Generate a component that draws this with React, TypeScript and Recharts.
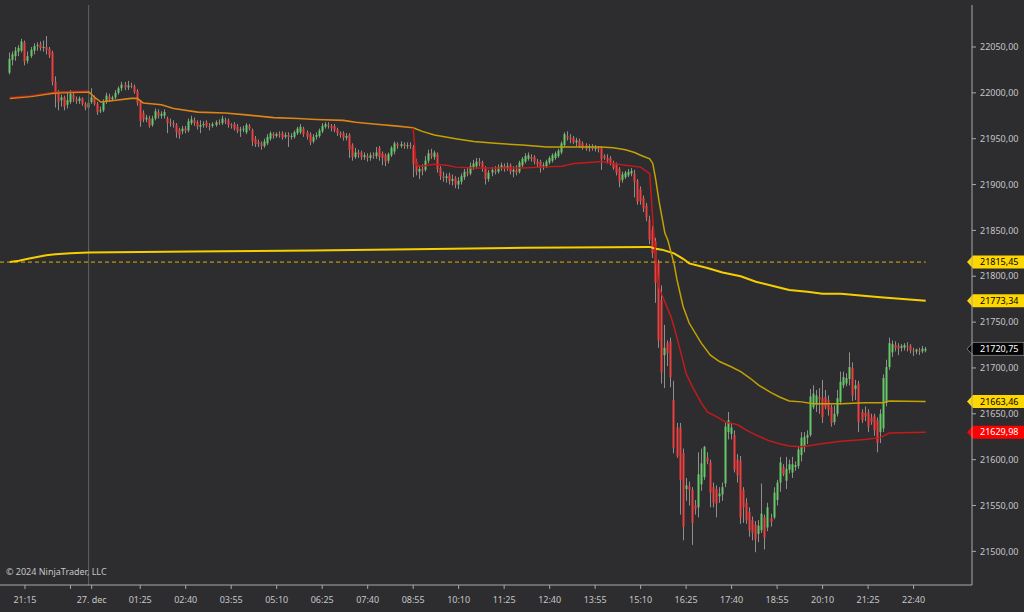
import React from 'react';
import { ComposedChart, Bar, Line, XAxis, YAxis, ReferenceLine } from 'recharts';

type Ohlc = [number, number, number, number]; // open, high, low, close
type Pt = [number, number]; // bar index, value

// 5 minute bars, 26 dec 20:50 -> 27 dec 23:00
const nightBars: Ohlc[] = [
  [22022, 22044, 22020, 22037], [22036, 22045, 22030, 22042], [22040, 22050, 22035, 22046], [22045, 22052, 22040, 22049],
  [22046, 22059, 22044, 22056], [22055, 22057, 22030, 22034], [22035, 22045, 22032, 22040], [22040, 22050, 22038, 22047],
  [22046, 22054, 22042, 22051], [22051, 22055, 22046, 22052], [22053, 22056, 22046, 22049], [22049, 22057, 22045, 22050],
  [22050, 22062, 22042, 22047], [22048, 22050, 22038, 22041], [22044, 22046, 22008, 22012], [22012, 22018, 21984, 21998],
  [22000, 22003, 21981, 21990], [21992, 21998, 21985, 21995], [21995, 21997, 21981, 21985], [21987, 22000, 21983, 21992],
  [21990, 22003, 21988, 21999], [21998, 22000, 21990, 21993], [21993, 21996, 21988, 21991], [21991, 21996, 21988, 21994],
  [21994, 21995, 21986, 21988], [21988, 21990, 21981, 21984], [21984, 21992, 21982, 21989],
];

const asiaBars: Ohlc[] = [
  [21990, 22005, 21988, 21995], [21995, 21997, 21986, 21988], [21988, 21990, 21976, 21979], [21980, 21985, 21978, 21981],
  [21981, 21993, 21979, 21990], [21990, 22000, 21988, 21997], [21996, 21999, 21990, 21993], [21993, 21997, 21991, 21995],
  [21995, 22003, 21993, 22000], [22000, 22007, 21998, 22005], [22005, 22012, 22002, 22009], [22009, 22012, 22003, 22006],
  [22006, 22013, 22003, 22008], [22008, 22011, 22005, 22007], [22007, 22009, 21999, 22001], [22002, 22004, 21986, 21989],
  [21990, 21992, 21963, 21969], [21978, 21981, 21968, 21971], [21971, 21976, 21968, 21973], [21972, 21975, 21962, 21964],
  [21965, 21975, 21963, 21972], [21972, 21983, 21970, 21980], [21979, 21982, 21972, 21975], [21975, 21980, 21972, 21977],
  [21975, 21982, 21972, 21979], [21972, 21974, 21956, 21967], [21968, 21972, 21963, 21967], [21967, 21970, 21962, 21965],
  [21965, 21967, 21951, 21957], [21960, 21962, 21950, 21954], [21958, 21964, 21955, 21961], [21961, 21964, 21956, 21959],
  [21959, 21972, 21957, 21969], [21967, 21975, 21965, 21971], [21970, 21973, 21964, 21967], [21968, 21970, 21960, 21963],
  [21963, 21970, 21956, 21965], [21965, 21969, 21962, 21966], [21968, 21970, 21962, 21964], [21964, 21967, 21959, 21963],
  [21964, 21968, 21962, 21966], [21965, 21970, 21963, 21968], [21968, 21971, 21965, 21967], [21967, 21975, 21965, 21972],
  [21970, 21973, 21966, 21969], [21970, 21972, 21962, 21965], [21965, 21967, 21961, 21964], [21966, 21968, 21959, 21961],
  [21963, 21966, 21956, 21958], [21959, 21963, 21952, 21960], [21960, 21964, 21957, 21961], [21957, 21967, 21955, 21965],
  [21964, 21966, 21959, 21961],
];

const morningBars: Ohlc[] = [
  [21959, 21961, 21942, 21947], [21950, 21953, 21941, 21944], [21946, 21949, 21941, 21944], [21945, 21947, 21938, 21942],
  [21942, 21950, 21940, 21947], [21945, 21955, 21943, 21952], [21950, 21958, 21948, 21956], [21955, 21957, 21950, 21953],
  [21953, 21957, 21951, 21955], [21955, 21958, 21951, 21954], [21956, 21958, 21949, 21951], [21952, 21957, 21950, 21954],
  [21954, 21957, 21941, 21952], [21952, 21956, 21949, 21953], [21952, 21959, 21950, 21957], [21956, 21963, 21954, 21961],
  [21957, 21966, 21955, 21963], [21961, 21963, 21952, 21955], [21957, 21959, 21949, 21952], [21955, 21957, 21943, 21946],
  [21947, 21955, 21945, 21952], [21952, 21957, 21949, 21954], [21953, 21961, 21951, 21959], [21958, 21967, 21956, 21964],
  [21963, 21968, 21961, 21966], [21965, 21968, 21961, 21964], [21964, 21966, 21958, 21962], [21964, 21966, 21957, 21959],
  [21960, 21962, 21953, 21956], [21956, 21958, 21951, 21954], [21956, 21958, 21948, 21951], [21951, 21956, 21948, 21953],
  [21954, 21956, 21929, 21938], [21943, 21945, 21926, 21930], [21930, 21940, 21928, 21935], [21935, 21938, 21929, 21933],
  [21935, 21937, 21927, 21930], [21930, 21935, 21927, 21932], [21931, 21934, 21925, 21929], [21929, 21935, 21926, 21932],
  [21932, 21935, 21928, 21931], [21931, 21941, 21928, 21935], [21940, 21942, 21926, 21930], [21934, 21936, 21921, 21929],
  [21932, 21934, 21920, 21925], [21926, 21935, 21923, 21933], [21932, 21942, 21930, 21940], [21936, 21947, 21933, 21945],
  [21944, 21946, 21939, 21942], [21942, 21947, 21940, 21944], [21944, 21946, 21939, 21942], [21942, 21946, 21939, 21943],
  [21943, 21946, 21939, 21942],
];

const europeBars: Ohlc[] = [
  [21941, 21943, 21908, 21922], [21925, 21928, 21910, 21914], [21914, 21921, 21906, 21917], [21917, 21922, 21910, 21915],
  [21916, 21931, 21914, 21926], [21926, 21938, 21923, 21934], [21934, 21939, 21928, 21931], [21930, 21937, 21927, 21935],
  [21933, 21935, 21913, 21917], [21918, 21920, 21905, 21909], [21909, 21914, 21903, 21907], [21907, 21912, 21902, 21909],
  [21910, 21913, 21900, 21904], [21904, 21911, 21899, 21906], [21907, 21909, 21896, 21900], [21900, 21908, 21895, 21904],
  [21903, 21912, 21900, 21909], [21908, 21917, 21905, 21914], [21914, 21918, 21909, 21912], [21912, 21924, 21910, 21920],
  [21919, 21927, 21916, 21923], [21920, 21929, 21917, 21925], [21925, 21929, 21920, 21923], [21924, 21926, 21914, 21917],
  [21918, 21920, 21900, 21906], [21906, 21916, 21903, 21913], [21913, 21919, 21909, 21916], [21915, 21920, 21911, 21914],
  [21914, 21922, 21912, 21919], [21918, 21924, 21915, 21921], [21920, 21923, 21914, 21918], [21918, 21924, 21915, 21920],
  [21921, 21923, 21911, 21914], [21914, 21920, 21908, 21916], [21916, 21921, 21910, 21913], [21914, 21926, 21912, 21924],
  [21921, 21930, 21919, 21928], [21925, 21934, 21923, 21931], [21928, 21935, 21926, 21932], [21930, 21933, 21925, 21928],
  [21930, 21932, 21922, 21925], [21925, 21928, 21919, 21922], [21925, 21927, 21913, 21918], [21920, 21924, 21916, 21921],
  [21920, 21927, 21918, 21925], [21924, 21931, 21922, 21929], [21926, 21934, 21924, 21932], [21929, 21936, 21927, 21934],
  [21931, 21939, 21929, 21937], [21935, 21947, 21933, 21945], [21943, 21957, 21941, 21955], [21953, 21958, 21948, 21951],
  [21951, 21955, 21945, 21949], [21951, 21953, 21944, 21946], [21946, 21951, 21942, 21948], [21948, 21950, 21940, 21942],
  [21945, 21947, 21938, 21940], [21943, 21945, 21937, 21939], [21940, 21944, 21936, 21941], [21941, 21944, 21937, 21939],
  [21939, 21943, 21936, 21940], [21940, 21942, 21935, 21938], [21940, 21942, 21916, 21928], [21931, 21933, 21927, 21929],
  [21929, 21933, 21923, 21926], [21929, 21931, 21921, 21924], [21924, 21926, 21916, 21918], [21922, 21924, 21910, 21913],
  [21917, 21919, 21897, 21903], [21905, 21914, 21902, 21911], [21908, 21915, 21906, 21913], [21910, 21917, 21908, 21914],
  [21912, 21918, 21909, 21915],
];

const crashBars: Ohlc[] = [
  [21912, 21916, 21886, 21903], [21904, 21906, 21878, 21881], [21895, 21898, 21878, 21882], [21885, 21888, 21870, 21874],
  [21877, 21880, 21860, 21864], [21862, 21866, 21835, 21840], [21850, 21855, 21820, 21825], [21838, 21842, 21771, 21793],
  [21815, 21818, 21722, 21730], [21774, 21790, 21683, 21695], [21714, 21747, 21678, 21722], [21727, 21730, 21702, 21716],
  [21729, 21733, 21679, 21690], [21665, 21686, 21607, 21613], [21635, 21640, 21602, 21604], [21635, 21640, 21540, 21578],
  [21607, 21612, 21512, 21527], [21568, 21580, 21555, 21572], [21571, 21576, 21550, 21567], [21567, 21570, 21507, 21531],
  [21550, 21556, 21540, 21546], [21548, 21608, 21537, 21584], [21573, 21612, 21566, 21596], [21581, 21615, 21578, 21614],
  [21602, 21608, 21595, 21598], [21597, 21600, 21548, 21564], [21570, 21575, 21548, 21553], [21568, 21572, 21537, 21552],
  [21560, 21570, 21553, 21563], [21562, 21575, 21555, 21570], [21574, 21640, 21570, 21636], [21630, 21652, 21622, 21643],
  [21628, 21640, 21622, 21635], [21627, 21632, 21586, 21589], [21600, 21606, 21575, 21583], [21599, 21604, 21530, 21537],
  [21567, 21570, 21531, 21548], [21553, 21558, 21530, 21534], [21543, 21548, 21516, 21523], [21534, 21538, 21512, 21520],
  [21529, 21533, 21499, 21513], [21519, 21534, 21510, 21528], [21523, 21574, 21520, 21541], [21537, 21540, 21502, 21515],
  [21526, 21553, 21522, 21548], [21536, 21541, 21527, 21532], [21537, 21570, 21535, 21564], [21556, 21578, 21550, 21575],
  [21575, 21603, 21565, 21597], [21592, 21595, 21582, 21584], [21577, 21603, 21568, 21590], [21589, 21600, 21585, 21595],
  [21586, 21603, 21580, 21595], [21592, 21598, 21588, 21594], [21593, 21614, 21590, 21611], [21605, 21630, 21598, 21624],
  [21614, 21630, 21608, 21625], [21624, 21632, 21617, 21627],
];

const reboundBars: Ohlc[] = [
  [21627, 21677, 21625, 21669], [21657, 21681, 21655, 21672], [21660, 21676, 21652, 21670], [21668, 21678, 21650, 21666],
  [21667, 21687, 21640, 21646], [21668, 21676, 21655, 21657], [21665, 21670, 21648, 21654], [21657, 21660, 21636, 21640],
  [21641, 21659, 21638, 21650], [21650, 21676, 21647, 21667], [21663, 21696, 21660, 21685], [21681, 21696, 21678, 21690],
  [21683, 21694, 21680, 21689], [21688, 21717, 21681, 21701], [21700, 21706, 21664, 21670], [21677, 21687, 21665, 21681],
  [21683, 21686, 21630, 21641], [21652, 21655, 21640, 21643], [21651, 21658, 21642, 21647], [21652, 21655, 21630, 21636],
  [21646, 21650, 21638, 21641], [21648, 21650, 21626, 21632], [21643, 21646, 21608, 21618], [21630, 21655, 21618, 21650],
  [21634, 21693, 21630, 21689], [21662, 21709, 21658, 21701], [21701, 21733, 21698, 21727], [21717, 21730, 21712, 21726],
  [21725, 21729, 21718, 21722], [21724, 21727, 21714, 21721], [21722, 21726, 21718, 21724], [21722, 21727, 21719, 21725],
  [21724, 21728, 21718, 21723], [21724, 21726, 21716, 21719], [21719, 21722, 21713, 21718], [21718, 21721, 21715, 21720],
  [21719, 21722, 21714, 21718], [21718, 21724, 21716, 21721], [21719, 21723, 21717, 21720.75],
];

// indicator lines, read at bar positions
const orangeLine: Pt[] = [
  [0, 21994], [7, 21996], [15, 22000], [26, 22001], [28, 21995], [30, 21990], [35, 21992], [40, 21994], [42, 21994],
  [44, 21989], [50, 21987], [54, 21983], [62, 21979], [71, 21978], [78, 21976], [87, 21973], [95, 21972], [101, 21971],
  [110, 21970], [114, 21968], [120, 21966], [127, 21964], [133, 21962],
];
const redNight: Pt[] = [[0, 21995], [7, 21997], [15, 22001], [26, 22002]];
const redDay: Pt[] = [
  [133, 21962], [134, 21921], [136, 21920], [140, 21922], [144, 21921], [147, 21919], [153, 21918], [162, 21918],
  [169, 21918], [175, 21919], [182, 21920], [186, 21923], [191, 21924], [195, 21925], [199, 21923], [201, 21922],
  [203, 21921], [208, 21919], [211, 21912], [212, 21862], [213, 21820], [214, 21788], [216, 21772], [218, 21756],
  [219, 21745], [221, 21720], [223, 21694], [225, 21680], [228, 21662], [230, 21652], [233, 21647], [236, 21641],
  [240, 21638], [243, 21632], [246, 21627], [250, 21621], [254, 21617], [257, 21615], [261, 21614], [263, 21615],
  [267, 21617], [274, 21620], [282, 21622], [287, 21624], [290, 21629], [302, 21629.98],
];
const goldLine: Pt[] = [
  [133, 21962], [136, 21958], [140, 21954], [147, 21950], [153, 21947], [160, 21945], [169, 21943], [177, 21941],
  [186, 21941], [195, 21941], [199, 21940], [203, 21938], [206, 21935], [208, 21932], [211, 21928], [212, 21923],
  [213, 21905], [214, 21883], [216, 21847], [217, 21839], [219, 21814], [220, 21796], [222, 21767], [224, 21749],
  [228, 21727], [231, 21714], [234, 21707], [238, 21701], [241, 21696], [244, 21689], [247, 21681], [251, 21673],
  [254, 21668], [257, 21664], [261, 21663], [265, 21661], [274, 21661], [282, 21662], [288, 21662], [290, 21664],
  [302, 21663.46],
];
const yellowLine: Pt[] = [
  [0, 21815.45], [3, 21817], [6, 21819], [9, 21821], [12, 21823], [15, 21824], [20, 21825], [26, 21826], [60, 21827],
  [100, 21828], [133, 21829.5], [170, 21831], [211, 21832], [213, 21830], [215, 21829], [219, 21825], [222, 21819],
  [224, 21814], [230, 21809], [235, 21804], [241, 21800], [246, 21794], [252, 21789], [257, 21785], [263, 21783],
  [268, 21781], [274, 21781], [287, 21777], [302, 21773.34],
];

const priorClose = 21815.45;
const sessionBreak = 26;

const timeTicks = [5, 20, 27, 43, 58, 73, 88, 103, 118, 133, 148, 163, 178, 193, 208, 223, 238, 253, 268, 283, 298];
const timeLabels = ['21:15', '', '27. dec', '01:25', '02:40', '03:55', '05:10', '06:25', '07:40', '08:55', '10:10',
  '11:25', '12:40', '13:55', '15:10', '16:25', '17:40', '18:55', '20:10', '21:25', '22:40'];
const priceTicks = [21500, 21550, 21600, 21650, 21700, 21750, 21800, 21850, 21900, 21950, 22000, 22050];

const priceTags = [
  { value: 21815.45, fill: '#ffd700', text: '#000000', stroke: 'none' },
  { value: 21773.34, fill: '#ffd700', text: '#000000', stroke: 'none' },
  { value: 21720.75, fill: '#050505', text: '#ffffff', stroke: '#8a8a8a' },
  { value: 21663.46, fill: '#ffd700', text: '#000000', stroke: 'none' },
  { value: 21629.98, fill: '#ff0000', text: '#ffffff', stroke: 'none' },
];

const candles = [...nightBars, ...asiaBars, ...morningBars, ...europeBars, ...crashBars, ...reboundBars].map(
  ([o, h, l, c], i) => ({ i, o, h, l, c, range: [l, h] })
);
const lastIndex = candles.length - 1;
const toPoints = (pts: Pt[]) => pts.map(([i, v]) => ({ i, v }));

const BG = '#2d2d30';
const AXIS = '#a9a9a9';
const TEXT = '#c6c6c6';
const FONT = '"Noto Sans", "Open Sans", sans-serif';

const fmtPrice = (v: number) => v.toFixed(2).replace('.', ',');

const Candle = (props: any) => {
  const { x, y, width, height, payload } = props;
  if (payload == null || height == null) return null;
  const cx = Math.floor(x + width / 2);
  const k = height / (payload.h - payload.l);
  const yo = y + (payload.h - payload.o) * k;
  const yc = y + (payload.h - payload.c) * k;
  const top = Math.min(yo, yc);
  const bh = Math.max(1, Math.abs(yo - yc));
  const up = payload.c >= payload.o;
  return (
    <g>
      <line x1={cx + 0.5} x2={cx + 0.5} y1={y} y2={y + height} stroke="#8e8e8e" strokeWidth={1} />
      <rect x={cx - 0.5} y={top} width={2} height={bh} fill={up ? '#66c866' : '#ec3f3f'} />
    </g>
  );
};

const PriceTag = (props: any) => {
  const { viewBox, tag } = props;
  if (!viewBox) return null;
  const right = viewBox.x + viewBox.width;
  const y = viewBox.y;
  const pts = `${right - 5},${y} ${right + 1},${y - 6.5} ${right + 52},${y - 6.5} ${right + 52},${y + 6.5} ${right + 1},${y + 6.5}`;
  return (
    <g>
      <polygon points={pts} fill={tag.fill} stroke={tag.stroke} strokeWidth={0.8} />
      <text x={right + 8} y={y} dy="0.36em" fill={tag.text} fontSize={9} fontFamily={FONT}>
        {fmtPrice(tag.value)}
      </text>
    </g>
  );
};

export default function App() {
  return (
    <div style={{ position: 'fixed', left: 0, top: 0, width: 1024, height: 612, background: BG, fontFamily: FONT }}>
      <ComposedChart width={1024} height={612} data={candles} margin={{ top: 5, right: 0, bottom: 0, left: 0 }}>
        <XAxis
          type="number"
          dataKey="i"
          domain={[-3.231, 317.26]}
          allowDataOverflow
          ticks={timeTicks}
          interval={0}
          tickFormatter={(v: number) => timeLabels[timeTicks.indexOf(v)] ?? ''}
          height={27}
          stroke={AXIS}
          tickSize={4}
          tickMargin={8}
          tick={{ fill: TEXT, fontSize: 9, fontFamily: FONT }}
          padding={{ left: 0, right: 0 }}
        />
        <YAxis
          orientation="right"
          type="number"
          width={52}
          domain={[21463.3, 22095.8]}
          allowDataOverflow
          ticks={priceTicks}
          interval={0}
          tickFormatter={fmtPrice}
          stroke={AXIS}
          tickSize={4}
          tickMargin={4}
          tick={{ fill: TEXT, fontSize: 9, fontFamily: FONT }}
        />
        <ReferenceLine x={sessionBreak} stroke="#636366" strokeWidth={1} />
        <ReferenceLine
          segment={[{ x: -3.231, y: priorClose }, { x: lastIndex, y: priorClose }]}
          stroke="#d9b300"
          strokeDasharray="4 3"
          strokeWidth={1}
        />
        <Line data={toPoints(yellowLine)} dataKey="v" type="linear" stroke="#f7cf00" strokeWidth={2} dot={false} activeDot={false} isAnimationActive={false} />
        <Line data={toPoints(orangeLine)} dataKey="v" type="linear" stroke="#dc8416" strokeWidth={1.6} dot={false} activeDot={false} isAnimationActive={false} />
        <Line data={toPoints(redNight)} dataKey="v" type="linear" stroke="#d01c1c" strokeOpacity={0.6} strokeWidth={1.4} dot={false} activeDot={false} isAnimationActive={false} />
        <Line data={toPoints(goldLine)} dataKey="v" type="linear" stroke="#c4a200" strokeWidth={1.5} dot={false} activeDot={false} isAnimationActive={false} />
        <Line data={toPoints(redDay)} dataKey="v" type="linear" stroke="#c41a1a" strokeWidth={1.5} dot={false} activeDot={false} isAnimationActive={false} />
        <Bar dataKey="range" barSize={3} shape={Candle} isAnimationActive={false} />
        {priceTags.map((t) => (
          <ReferenceLine key={t.value} y={t.value} stroke="none" label={<PriceTag tag={t} />} />
        ))}
      </ComposedChart>
      <div style={{ position: 'absolute', left: 6, top: 567, fontSize: 9, lineHeight: '10px', color: TEXT, whiteSpace: 'nowrap' }}>
        © 2024 NinjaTrader, LLC
      </div>
    </div>
  );
}
